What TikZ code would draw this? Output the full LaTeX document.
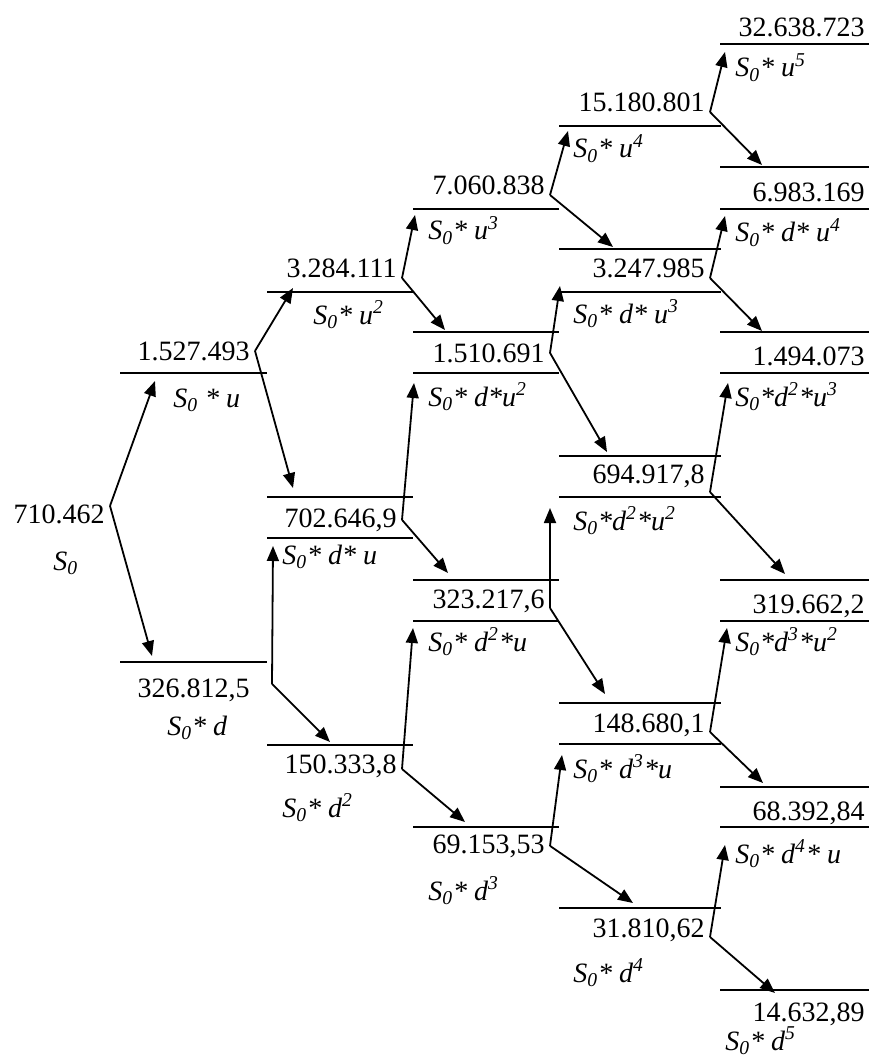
\documentclass[tikz,border=0pt]{standalone}
\usepackage{fontspec}
\setmainfont{Liberation Serif}
\usetikzlibrary{arrows.meta}

\begin{document}
\begin{tikzpicture}[x=0.5pt,y=-0.5pt,
  every node/.style={font=\fontsize{14}{16}\selectfont},
  val/.style={anchor=base east,inner xsep=2.5pt,inner ysep=1pt},
  lab/.style={anchor=base west,inner sep=0pt,
    font=\fontsize{14}{16}\selectfont\itshape},
  bar/.style={line width=1pt},
  flow/.style={-{Triangle[length=7.5pt,width=6pt]},line width=0.9pt}]
  \useasboundingbox (0,0) rectangle (869,1059);

  % start
  \node[val] (s0) at (110,523) {710.462};
  \node[lab] (s0l) at (53,570) {S\textsubscript{0}};

  % step 1
  \draw[bar] (120,373) -- (267,373);
  \node[val] (u1) at (255,360) {1.527.493};
  \node[lab] (u1l) at (173,407) {S\textsubscript{0} * u};
  \coordinate (u1in) at (155,381);

  \draw[bar] (120,662) -- (267,662);
  \node[val] (d1) at (255,697) {326.812,5};
  \node[lab] (d1l) at (167,735) {S\textsubscript{0}* d};
  \coordinate (d1in) at (152,656);

  % step 2
  \draw[bar] (267,292) -- (413,292);
  \node[val] (u2) at (402,278) {3.284.111};
  \node[lab] (u2l) at (313,324) {S\textsubscript{0}* u\textsuperscript{2}};
  \coordinate (u2in) at (293,288);

  \draw[bar] (267,497) -- (413,497);
  \draw[bar] (267,538) -- (413,538);
  \node[val] (du) at (402,527) {702.646,9};
  \node[lab] (dul) at (282,564) {S\textsubscript{0}* d* u};
  \coordinate (duT) at (293,488);
  \coordinate (duB) at (273,546);

  \draw[bar] (267,745) -- (413,745);
  \node[val] (d2) at (402,773) {150.333,8};
  \node[lab] (d2l) at (282,817) {S\textsubscript{0}* d\textsuperscript{2}};
  \coordinate (d2in) at (330,742);

  % step 3
  \draw[bar] (413,209) -- (559,209);
  \node[val] (u3) at (550,195) {7.060.838};
  \node[lab] (u3l) at (428,240) {S\textsubscript{0}* u\textsuperscript{3}};
  \coordinate (u3in) at (415,215);

  \draw[bar] (413,332) -- (559,332);
  \draw[bar] (413,373) -- (559,373);
  \node[val] (du2) at (550,362) {1.510.691};
  \node[lab] (du2l) at (428,406) {S\textsubscript{0}* d*u\textsuperscript{2}};
  \coordinate (du2T) at (445,330);
  \coordinate (du2B) at (414,383);

  \draw[bar] (413,580) -- (559,580);
  \draw[bar] (413,621) -- (559,621);
  \node[val] (d2u) at (550,608) {323.217,6};
  \node[lab] (d2ul) at (428,651) {S\textsubscript{0}* d\textsuperscript{2}*u};
  \coordinate (d2uT) at (448,573);
  \coordinate (d2uB) at (413,628);

  \draw[bar] (413,827) -- (559,827);
  \node[val] (d3) at (550,853) {69.153,53};
  \node[lab] (d3l) at (428,900) {S\textsubscript{0}* d\textsuperscript{3}};
  \coordinate (d3in) at (465,822);

  % step 4
  \draw[bar] (559,126) -- (721,126);
  \node[val] (u4) at (710,112) {15.180.801};
  \node[lab] (u4l) at (573,158) {S\textsubscript{0}* u\textsuperscript{4}};
  \coordinate (u4in) at (568,131);

  \draw[bar] (559,249) -- (721,249);
  \draw[bar] (559,292) -- (721,292);
  \node[val] (du3) at (710,278) {3.247.985};
  \node[lab] (du3l) at (573,323) {S\textsubscript{0}* d* u\textsuperscript{3}};
  \coordinate (du3T) at (613,247);
  \coordinate (du3B) at (560,286);

  \draw[bar] (559,456) -- (721,456);
  \draw[bar] (559,497) -- (721,497);
  \node[val] (d2u2) at (710,483) {694.917,8};
  \node[lab] (d2u2l) at (573,530) {S\textsubscript{0}*d\textsuperscript{2}*u\textsuperscript{2}};
  \coordinate (d2u2T) at (607,452);
  \coordinate (d2u2B) at (550,508);

  \draw[bar] (559,703) -- (721,703);
  \draw[bar] (559,744) -- (721,744);
  \node[val] (d3u) at (710,732) {148.680,1};
  \node[lab] (d3ul) at (573,778) {S\textsubscript{0}* d\textsuperscript{3}*u};
  \coordinate (d3uT) at (605,694);
  \coordinate (d3uB) at (562,755);

  \draw[bar] (559,908) -- (721,908);
  \node[val] (d4) at (710,937) {31.810,62};
  \node[lab] (d4l) at (573,982) {S\textsubscript{0}* d\textsuperscript{4}};
  \coordinate (d4in) at (633,903);

  % step 5
  \draw[bar] (720,44) -- (869,44);
  \node[val] (u5) at (870,37) {32.638.723};
  \node[lab] (u5l) at (735,77) {S\textsubscript{0}* u\textsuperscript{5}};
  \coordinate (u5in) at (725,52);

  \draw[bar] (720,167) -- (869,167);
  \draw[bar] (720,209) -- (869,209);
  \node[val] (du4) at (870,202) {6.983.169};
  \node[lab] (du4l) at (735,242) {S\textsubscript{0}* d* u\textsuperscript{4}};
  \coordinate (du4T) at (762,165);
  \coordinate (du4B) at (725,216);

  \draw[bar] (720,332) -- (869,332);
  \draw[bar] (720,373) -- (869,373);
  \node[val] (d2u3) at (870,365) {1.494.073};
  \node[lab] (d2u3l) at (735,406) {S\textsubscript{0}*d\textsuperscript{2}*u\textsuperscript{3}};
  \coordinate (d2u3T) at (762,331);
  \coordinate (d2u3B) at (728,383);

  \draw[bar] (720,580) -- (869,580);
  \draw[bar] (720,621) -- (869,621);
  \node[val] (d3u2) at (870,613) {319.662,2};
  \node[lab] (d3u2l) at (735,651) {S\textsubscript{0}*d\textsuperscript{3}*u\textsuperscript{2}};
  \coordinate (d3u2T) at (785,574);
  \coordinate (d3u2B) at (727,628);

  \draw[bar] (720,787) -- (869,787);
  \draw[bar] (720,827) -- (869,827);
  \node[val] (d4u) at (870,820) {68.392,84};
  \node[lab] (d4ul) at (735,863) {S\textsubscript{0}* d\textsuperscript{4}* u};
  \coordinate (d4uT) at (763,783);
  \coordinate (d4uB) at (725,845);

  \draw[bar] (720,990) -- (869,990);
  \node[val] (d5) at (870,1021) {14.632,89};
  \node[lab] (d5l) at (725,1050) {S\textsubscript{0}* d\textsuperscript{5}};
  \coordinate (d5in) at (775,993);

  % moves
  \draw[flow] ([yshift=4pt]s0.east) -- (u1in);
  \draw[flow] ([yshift=4pt]s0.east) -- (d1in);
  \draw[flow] (u1.east) -- (u2in);
  \draw[flow] (u1.east) -- (duT);
  \draw[flow] ([xshift=8.5pt,yshift=3pt]d1.east) -- (duB);
  \draw[flow] ([xshift=8.5pt,yshift=3pt]d1.east) -- (d2in);
  \draw[flow] (u2.base east) -- (u3in);
  \draw[flow] (u2.base east) -- (du2T);
  \draw[flow] (du.east) -- (du2B);
  \draw[flow] (du.east) -- (d2uT);
  \draw[flow] ([yshift=2pt]d2.base east) -- (d2uB);
  \draw[flow] ([yshift=2pt]d2.base east) -- (d3in);
  \draw[flow] (u3.base east) -- (u4in);
  \draw[flow] (u3.base east) -- (du3T);
  \draw[flow] (du2.east) -- (du3B);
  \draw[flow] (du2.east) -- (d2u2T);
  \draw[flow] (d2u.base east) -- (d2u2B);
  \draw[flow] (d2u.base east) -- (d3uT);
  \draw[flow] (d3.east) -- (d3uB);
  \draw[flow] (d3.east) -- (d4in);
  \draw[flow] (u4.base east) -- (u5in);
  \draw[flow] (u4.base east) -- (du4T);
  \draw[flow] (du3.base east) -- (du4B);
  \draw[flow] (du3.base east) -- (d2u3T);
  \draw[flow] ([yshift=-4.5pt]d2u2.base east) -- (d2u3B);
  \draw[flow] ([yshift=-4.5pt]d2u2.base east) -- (d3u2T);
  \draw[flow] (d3u.base east) -- (d3u2B);
  \draw[flow] (d3u.base east) -- (d4uT);
  \draw[flow] (d4.base east) -- (d4uB);
  \draw[flow] (d4.base east) -- (d5in);
\end{tikzpicture}
\end{document}
